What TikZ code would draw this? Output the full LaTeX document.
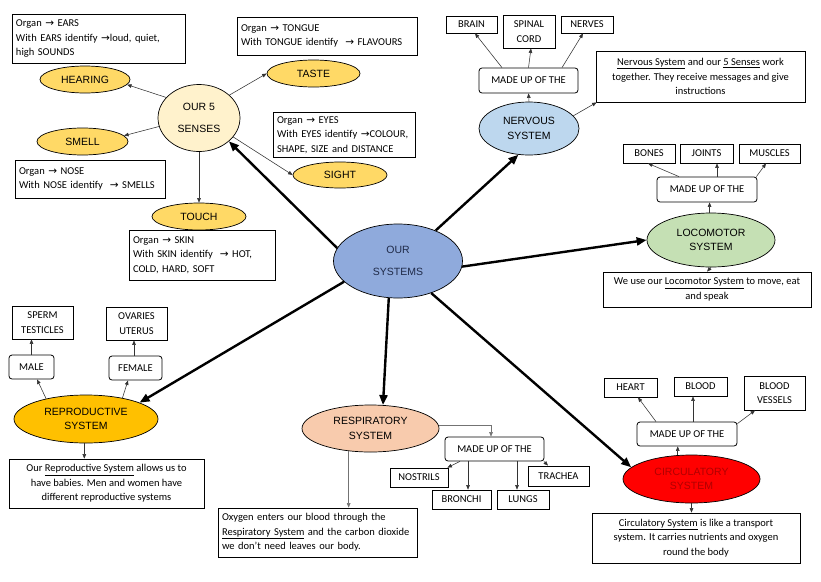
\documentclass[tikz,border=0pt]{standalone}
\usepackage{fontspec}
\setmainfont{Carlito}
\newfontfamily\arialf{Liberation Sans}
\newfontfamily\dejavuf{DejaVu Sans}
\usetikzlibrary{arrows.meta,shapes.geometric,calc}
\newcommand\rarr{{\dejavuf\fontsize{10.5}{10}\selectfont →}}
\definecolor{senseC}{HTML}{FFD966}
\definecolor{sensesC}{HTML}{FFF2CC}
\definecolor{sysC}{HTML}{8FAADC}
\definecolor{nervC}{HTML}{BDD7EE}
\definecolor{locoC}{HTML}{C5E0B4}
\definecolor{reproC}{HTML}{FFC000}
\definecolor{respC}{HTML}{F8CBAD}
\definecolor{circC}{HTML}{FF0000}
\definecolor{circT}{HTML}{B00000}
\definecolor{navyT}{HTML}{1F2A48}
\tikzset{
  tbox/.style={draw, line width=0.8pt, inner sep=4pt, align=center,
    font=\fontsize{10.5}{14.6}\selectfont},
  rbox/.style={tbox, rounded corners=3pt},
  ell/.style={ellipse, draw, line width=0.7pt, inner sep=0pt, align=center,
    font=\arialf\fontsize{10.5}{14.5}\selectfont},
  tarr/.style={-{Triangle[length=4.5pt,width=3.6pt]}, line width=0.55pt, draw=black!80},
  garr/.style={tarr, draw=black!55},
  karr/.style={-{Triangle[length=10pt,width=8pt]}, line width=2.4pt}
}
\begin{document}
\begin{tikzpicture}[x=1pt,y=-1pt]
\useasboundingbox[fill=white] (0,0) rectangle (821,581);

% ---------- central ----------
\node[ell, fill=sysC, minimum width=129pt, minimum height=74pt, text=navyT] (sys) at (398,261) {OUR\\[7pt]SYSTEMS};

% ---------- senses ----------
\node[ell, fill=sensesC, minimum width=82pt, minimum height=67pt] (senses) at (199,118) {OUR 5\\[7pt]SENSES};
\node[ell, fill=senseC, minimum width=90pt, minimum height=27pt] (hearing) at (85,79.5) {HEARING};
\node[ell, fill=senseC, minimum width=93pt, minimum height=27pt] (taste) at (313.5,73.5) {TASTE};
\node[ell, fill=senseC, minimum width=91pt, minimum height=27pt] (smell) at (82.5,141.5) {SMELL};
\node[ell, fill=senseC, minimum width=94pt, minimum height=26pt] (sight) at (340,175) {SIGHT};
\node[ell, fill=senseC, minimum width=94pt, minimum height=27pt] (touch) at (199,216.5) {TOUCH};

\node[tbox, minimum width=173pt, minimum height=49pt, text width=165pt, align=left] (ears) at (98.5,38.5)
  {Organ \rarr{} EARS\\With EARS identify \rarr{}loud, quiet,\\high SOUNDS};
\node[tbox, minimum width=180pt, minimum height=38pt, text width=172pt, align=left] (tongue) at (327,36)
  {Organ \rarr{} TONGUE\\With TONGUE identify \ \rarr{} FLAVOURS};
\node[tbox, minimum width=142pt, minimum height=44pt, text width=134pt, align=left] (eyes) at (344,135)
  {Organ \rarr{} EYES\\With EYES identify \rarr{}COLOUR,\\SHAPE, SIZE and DISTANCE};
\node[tbox, minimum width=150pt, minimum height=38pt, text width=142pt, align=left] (nose) at (90,179)
  {Organ \rarr{} NOSE\\With NOSE identify \ \rarr{} SMELLS};
\node[tbox, minimum width=146pt, minimum height=50pt, text width=138pt, align=left] (skin) at (202,255)
  {Organ \rarr{} SKIN\\With SKIN identify \ \rarr{} HOT,\\COLD, HARD, SOFT};

\draw[tarr] (senses.148) -- (hearing.-7);
\draw[tarr] (senses.37) -- (taste.180);
\draw[tarr] (senses.192) -- (smell.8);
\draw[tarr] (senses.south) -- (touch.north);
\draw[tarr] (senses.-29) -- (sight.180);

% ---------- nervous ----------
\node[tbox, minimum width=51pt, minimum height=17pt] (brain) at (471.5,24.5) {BRAIN};
\node[tbox, minimum width=52pt, minimum height=33pt] (spinal) at (529,31.5) {SPINAL\\CORD};
\node[tbox, minimum width=52pt, minimum height=17pt] (nerves) at (587,24.5) {NERVES};
\node[rbox, minimum width=99pt, minimum height=25pt] (mu1) at (528.5,80.5) {MADE UP OF THE};
\node[ell, fill=nervC, minimum width=100pt, minimum height=53pt] (nervous) at (529,128.5) {NERVOUS\\SYSTEM};
\node[tbox, minimum width=209pt, minimum height=51pt] (ndesc) at (700.5,76.5)
  {\underline{Nervous System} and our \underline{5 Senses} work\\together. They receive messages and give\\instructions};

\draw[tarr] ([xshift=-26.5pt]mu1.north) -- ([xshift=3.5pt]brain.south);
\draw[tarr] (mu1.north) -- ([xshift=2pt]spinal.south);
\draw[tarr] ([xshift=33.5pt]mu1.north) -- ([xshift=-4pt]nerves.south);
\draw[tarr] (nervous.north) -- (mu1.south);
\draw[tarr] (nervous.16) -- ([xshift=1pt]ndesc.south west);

% ---------- locomotor ----------
\node[tbox, minimum width=52pt, minimum height=19pt] (bones) at (649,153.5) {BONES};
\node[tbox, minimum width=53pt, minimum height=19pt] (joints) at (706.5,153.5) {JOINTS};
\node[tbox, minimum width=61pt, minimum height=19pt] (muscles) at (769.5,153.5) {MUSCLES};
\node[rbox, minimum width=100pt, minimum height=25pt] (mu2) at (707,189.5) {MADE UP OF THE};
\node[ell, fill=locoC, minimum width=128pt, minimum height=54pt] (loco) at (711,240) {LOCOMOTOR\\SYSTEM};
\node[tbox, minimum width=208pt, minimum height=35pt] (ldesc) at (707,289.5)
  {We use our \underline{Locomotor System} to move, eat\\and speak};

\draw[tarr] ([xshift=-28pt]mu2.north) -- ([xshift=-1pt]bones.south);
\draw[tarr] ([xshift=10pt]mu2.north) -- ([xshift=10.5pt]joints.south);
\draw[tarr] ([xshift=-1pt]mu2.north east) -- ([xshift=-3.5pt]muscles.south);
\draw[tarr] (loco.93) -- (loco.93 |- mu2.south);
\draw[tarr] (loco.south) -- (ldesc.north);

% ---------- reproductive ----------
\node[tbox, minimum width=61pt, minimum height=33pt] (sperm) at (42.5,322.5) {SPERM\\TESTICLES};
\node[tbox, minimum width=61pt, minimum height=33pt] (ovaries) at (136.5,323.5) {OVARIES\\UTERUS};
\node[rbox, minimum width=45pt, minimum height=24pt] (male) at (31.5,367) {MALE};
\node[rbox, minimum width=53pt, minimum height=24pt] (female) at (135.5,368) {FEMALE};
\node[ell, fill=reproC, minimum width=144pt, minimum height=48pt] (repro) at (86,419) {REPRODUCTIVE\\SYSTEM};
\node[tbox, minimum width=195pt, minimum height=49pt] (rdesc) at (106.5,483.5)
  {Our \underline{Reproductive System} allows us to\\have babies. Men and women have\\different reproductive systems};

\draw[tarr] (male.north) -- (male.north |- sperm.south);
\draw[tarr] ([xshift=-1.5pt]female.north) -- ([xshift=-1.5pt]female.north |- ovaries.south);
\draw[tarr] (repro.153) -- ([xshift=5.5pt]male.south);
\draw[tarr] (repro.30) -- ([xshift=-7.5pt]female.south);
\draw[tarr] (repro.266) -- (repro.266 |- rdesc.north);

% ---------- respiratory ----------
\node[ell, fill=respC, minimum width=137pt, minimum height=47pt] (resp) at (370.5,428.5) {RESPIRATORY\\SYSTEM};
\node[tbox, minimum width=199pt, minimum height=49pt, text width=191pt, align=left] (rsdesc) at (317.5,532.5)
  {Oxygen enters our blood through the\\\underline{Respiratory System} and the carbon dioxide\\we don’t need leaves our body.};
\node[rbox, minimum width=99pt, minimum height=24pt] (mu3) at (494.5,449) {MADE UP OF THE};
\node[tbox, minimum width=58pt, minimum height=19pt] (nostrils) at (419,477.5) {NOSTRILS};
\node[tbox, minimum width=59pt, minimum height=19pt] (bronchi) at (461.5,499.5) {BRONCHI};
\node[tbox, minimum width=52pt, minimum height=19pt] (lungs) at (523,499.5) {LUNGS};
\node[tbox, minimum width=61pt, minimum height=20pt] (trachea) at (558.5,476) {TRACHEA};

\draw[garr] (resp.226) -- (resp.226 |- rsdesc.north);
\draw[garr] (resp.3) -| ([xshift=-3.5pt]mu3.north);
\draw[tarr] ([xshift=-34.5pt]mu3.south) -- ([xshift=-1pt]nostrils.north east);
\draw[tarr] ([xshift=-26.5pt]mu3.south) -- ([xshift=-26.5pt]mu3.south |- bronchi.north);
\draw[tarr] ([xshift=22.5pt]mu3.south) -- ([xshift=22.5pt]mu3.south |- lungs.north);
\draw[tarr] ([xshift=-0.5pt]mu3.south east) -- ([xshift=-10.5pt]trachea.north);

% ---------- circulatory ----------
\node[tbox, minimum width=53pt, minimum height=19pt] (heart) at (630.5,387.5) {HEART};
\node[tbox, minimum width=53pt, minimum height=19pt] (blood) at (700.5,386.5) {BLOOD};
\node[tbox, minimum width=61pt, minimum height=34pt] (vessels) at (774.5,393) {BLOOD\\VESSELS};
\node[rbox, minimum width=100pt, minimum height=24pt] (mu4) at (687,434) {MADE UP OF THE};
\node[ell, fill=circC, minimum width=137pt, minimum height=48pt, text=circT] (circ) at (691.5,479) {CIRCULATORY\\SYSTEM};
\node[tbox, minimum width=208pt, minimum height=50pt] (cdesc) at (696,538)
  {\underline{Circulatory System} is like a transport\\system. It carries nutrients and oxygen\\round the body};

\draw[tarr] ([xshift=-31pt]mu4.north) -- ([xshift=7.5pt]heart.south);
\draw[tarr] ([xshift=6pt]mu4.north) -- ([xshift=6pt]mu4.north |- blood.south);
\draw[tarr] ([yshift=-2pt]mu4.north east) -- ([xshift=-19.5pt]vessels.south);
\draw[tarr] (circ.120) -- (circ.120 |- mu4.south);
\draw[tarr] (circ.south) -- (circ.south |- cdesc.north);

% ---------- thick connectors ----------
\draw[karr] (sys.168) -- (senses.-38);
\draw[karr] (sys.39) -- (nervous.248);
\draw[karr] (sys.-5) -- (loco.180);
\draw[karr] (sys.201) -- (repro.17);
\draw[karr] (sys.256) -- (resp.62);
\draw[karr] (sys.316) -- (circ.169);
\end{tikzpicture}
\end{document}
